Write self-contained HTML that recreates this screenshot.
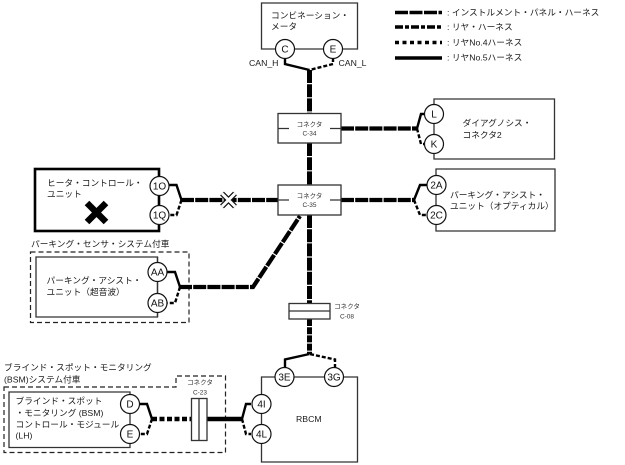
<!DOCTYPE html>
<html><head><meta charset="utf-8">
<style>
html,body{margin:0;padding:0;background:#fff;width:625px;height:465px;overflow:hidden}
svg{display:block}
text{font-family:"Liberation Sans","Noto Sans CJK JP",sans-serif;font-size:8.7px;fill:#1a1a1a}
.s{font-size:6.5px;fill:#333;text-anchor:middle}
.c{font-size:10px;fill:#111;text-anchor:middle}
.b{fill:none;stroke:#333;stroke-width:1.3}
.h{fill:none;stroke:#000;stroke-width:4.2;stroke-dasharray:13 1.2}
.v{fill:none;stroke:#000;stroke-width:5;stroke-dasharray:13 1.2}
.f{fill:none;stroke:#000;stroke-width:2.4;stroke-linejoin:miter}
.d{fill:none;stroke:#000;stroke-width:2.4;stroke-dasharray:4 2}
.o{fill:#fff;stroke:#111;stroke-width:1.2}
.x{fill:none;stroke:#222;stroke-width:1.2;stroke-dasharray:5 3}
.t{fill:#fff;stroke:#333;stroke-width:1.3}
</style></head><body>
<svg width="625" height="465" viewBox="0 0 625 465" xmlns="http://www.w3.org/2000/svg">
<!-- boxes -->
<path class="b" d="M261.5 49V3H357.5V49Z"/>
<path class="b" d="M434 99H554.5V159H434Z"/>
<path class="b" d="M436 169H555V231H436Z"/>
<rect x="35" y="169" width="124" height="62" fill="none" stroke="#000" stroke-width="2.6"/>
<path class="x" d="M30.5 252H189V322.5H30.5Z"/>
<path class="b" d="M157.5 257H36V317H157.5Z"/>
<path class="b" d="M157.5 257V317"/>
<path class="x" d="M4 387H176V376H225.5V452.5H4Z"/>
<path class="b" d="M130 392H9V447.5H130Z"/>
<path class="b" d="M261.5 377H357.5V462H261.5Z"/>
<!-- main harness -->
<path class="v" d="M309.5 70V113"/>
<path class="v" d="M309.5 143V185"/>
<path class="v" d="M309.5 215V303"/>
<path class="v" d="M309.5 319V354" style="stroke-dasharray:7 1.2"/>
<path class="h" d="M341 128.5H417"/>
<path class="h" d="M341 200H414"/>
<path class="h" d="M181 200H278"/>
<path class="h" d="M179 287H253L300 216"/>
<path d="M207 419H242" fill="none" stroke="#000" stroke-width="4.5"/>
<path d="M152 419H191" fill="none" stroke="#000" stroke-width="4.5" stroke-dasharray="5 2.5"/>
<!-- forks -->
<path class="f" d="M285 58V64L309.5 70"/>
<path class="d" d="M333 58V64L309.5 70"/>
<path class="f" d="M424 114H421L417 128.5"/>
<path class="d" d="M417 128.5L421 144H424"/>
<path class="f" d="M427 185H420L414 200"/>
<path class="d" d="M414 200L420 215H427"/>
<path class="f" d="M169 185H176.5L181.5 200"/>
<path class="d" d="M181.5 200L176.5 215H169"/>
<path class="f" d="M167 272H175L180 287"/>
<path class="d" d="M180 287L175 303H167"/>
<path class="f" d="M140 404H147L152 419"/>
<path class="d" d="M152 419L147 434H140"/>
<path class="f" d="M285 368V359.5L309.5 354"/>
<path class="d" d="M335 368V359.5L309.5 354"/>
<path class="f" d="M251 404H246L242 419"/>
<path class="d" d="M242 419L246 434H251"/>
<!-- legend -->
<path d="M395 12.5H442" fill="none" stroke="#000" stroke-width="3.5" stroke-dasharray="13 1.5"/>
<path d="M395 27H442" fill="none" stroke="#000" stroke-width="3.5" stroke-dasharray="8 2 4 2"/>
<path d="M395 42.5H442" fill="none" stroke="#000" stroke-width="3.5" stroke-dasharray="4 3.5"/>
<path d="M395 58H442" fill="none" stroke="#000" stroke-width="3.5"/>
<text x="447" y="15.5">: インストルメント・パネル・ハーネス</text>
<text x="447" y="30">: リヤ・ハーネス</text>
<text x="447" y="45.5">: リヤNo.4ハーネス</text>
<text x="447" y="60.5">: リヤNo.5ハーネス</text>
<!-- connectors -->
<rect class="t" x="278" y="113.5" width="63" height="29.5"/>
<path class="b" d="M278 128.5H289M330 128.5H341"/>
<text class="s" x="309.5" y="126.5">コネクタ</text><text class="s" x="309.5" y="135.5">C-34</text>
<rect class="t" x="278" y="185" width="63" height="30"/>
<path class="b" d="M278 200H289M330 200H341"/>
<text class="s" x="309.5" y="198">コネクタ</text><text class="s" x="309.5" y="207">C-35</text>
<rect class="t" x="289" y="303.5" width="41" height="15.5"/>
<path class="b" d="M289 311H330"/>
<text class="s" x="347" y="308.5">コネクタ</text><text class="s" x="347" y="318.5">C-08</text>
<rect class="t" x="191.5" y="398.5" width="15.5" height="42"/>
<path class="b" d="M199 398.5V440.5"/>
<text class="s" x="200" y="384.5">コネクタ</text><text class="s" x="200" y="394.5">C-23</text>
<!-- circles -->
<g>
<circle class="o" cx="285" cy="49" r="9.5"/><text class="c" x="285" y="52.5">C</text>
<circle class="o" cx="333" cy="49" r="9.5"/><text class="c" x="333" y="52.5">E</text>
<circle class="o" cx="434" cy="114" r="9.5"/><text class="c" x="434" y="117.5">L</text>
<circle class="o" cx="434" cy="144" r="9.5"/><text class="c" x="434" y="147.5">K</text>
<circle class="o" cx="436.5" cy="185" r="9.5"/><text class="c" x="436.5" y="188.5">2A</text>
<circle class="o" cx="436.5" cy="215" r="9.5"/><text class="c" x="436.5" y="218.5">2C</text>
<circle class="o" cx="159.5" cy="186" r="9.5"/><text class="c" x="159.5" y="189.5">1O</text>
<circle class="o" cx="159.5" cy="215" r="9.5"/><text class="c" x="159.5" y="218.5">1Q</text>
<circle class="o" cx="157.5" cy="272" r="9.5"/><text class="c" x="157.5" y="275.5">AA</text>
<circle class="o" cx="157.5" cy="303" r="9.5"/><text class="c" x="157.5" y="306.5">AB</text>
<circle class="o" cx="130" cy="404" r="9.5"/><text class="c" x="130" y="407.5">D</text>
<circle class="o" cx="130" cy="434" r="9.5"/><text class="c" x="130" y="437.5">E</text>
<circle class="o" cx="284.5" cy="377" r="9.5"/><text class="c" x="284.5" y="380.5">3E</text>
<circle class="o" cx="334" cy="377" r="9.5"/><text class="c" x="334" y="380.5">3G</text>
<circle class="o" cx="261.5" cy="404" r="9.5"/><text class="c" x="261.5" y="407.5">4I</text>
<circle class="o" cx="261.5" cy="434" r="9.5"/><text class="c" x="261.5" y="437.5">4L</text>
</g>
<!-- crosses -->
<path d="M87 203L106 222M106 203L87 222" fill="none" stroke="#000" stroke-width="6.5"/>
<path d="M222 193.5L235 206.5M235 193.5L222 206.5" fill="none" stroke="#111" stroke-width="5.4"/>
<path d="M222 193.5L235 206.5M235 193.5L222 206.5" fill="none" stroke="#fff" stroke-width="3"/>
<!-- labels -->
<text x="249" y="66">CAN_H</text>
<text x="338.5" y="66">CAN_L</text>
<text x="271" y="18.5">コンビネーション・</text>
<text x="271" y="29.5">メータ</text>
<text x="462.5" y="126">ダイアグノシス・</text>
<text x="462.5" y="138">コネクタ2</text>
<text x="450" y="198">パーキング・アシスト・</text>
<text x="450" y="209">ユニット（オプティカル）</text>
<text x="47" y="186">ヒータ・コントロール・</text>
<text x="47" y="197">ユニット</text>
<text x="31" y="247">パーキング・センサ・システム付車</text>
<text x="46.5" y="283.5">パーキング・アシスト・</text>
<text x="46.5" y="295">ユニット（超音波）</text>
<text x="4" y="370.5">ブラインド・スポット・モニタリング</text>
<text x="4" y="382.5">(BSM)システム付車</text>
<text x="15.5" y="404">ブラインド・スポット</text>
<text x="15.5" y="416">・モニタリング (BSM)</text>
<text x="15.5" y="427.5">コントロール・モジュール</text>
<text x="15.5" y="438.5">(LH)</text>
<text x="296" y="422">RBCM</text>
</svg>
</body></html>
